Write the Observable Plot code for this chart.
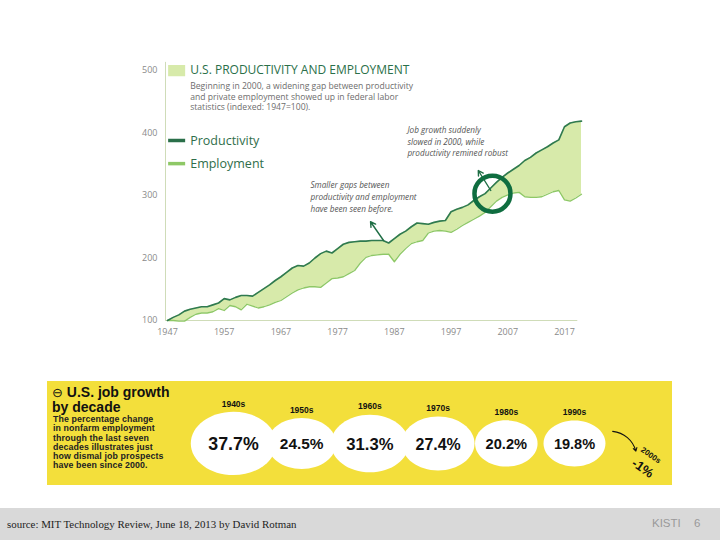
<!DOCTYPE html>
<html><head><meta charset="utf-8">
<script src="https://cdn.jsdelivr.net/npm/d3@7"></script>
<script src="https://cdn.jsdelivr.net/npm/@observablehq/plot@0.6"></script>
<style>
body{margin:0;background:#fff;}
#page{position:relative;width:720px;height:540px;overflow:hidden;background:#fff;font-family:"Liberation Sans",Arial,sans-serif;}
#topchart{position:absolute;left:0;top:0;}
#panel{position:absolute;left:47px;top:381px;width:625px;height:104px;background:#f3df3b;}
#ptitle{position:absolute;left:5px;top:4px;font-weight:bold;font-size:14px;line-height:14px;color:#111;}
#pbody{position:absolute;left:6px;top:34px;font-size:8.8px;line-height:9.3px;color:#222;font-weight:bold;letter-spacing:0.1px;}
#bubbles{position:absolute;left:145px;top:0;}
#footer{position:absolute;left:0;top:508px;width:720px;height:32px;background:#d9d9d9;}
#src{position:absolute;left:7px;top:10px;font-family:"Liberation Serif","DejaVu Serif",serif;font-size:10.9px;color:#222;}
#kisti{position:absolute;left:652px;top:9px;font-size:11.5px;color:#9a9a9a;}
#pg{position:absolute;left:694px;top:9px;font-size:11.5px;color:#9a9a9a;}
</style></head>
<body>
<div id="page">
  <div id="topchart"></div>
  <div id="panel">
    <div id="ptitle"><span style="font-family:'DejaVu Sans';font-size:13px;font-weight:normal">⊖</span> U.S. job growth<br>by decade</div>
    <div id="pbody">The percentage change<br>in nonfarm employment<br>through the last seven<br>decades illustrates just<br>how dismal job prospects<br>have been since 2000.</div>
    <div id="bubbles"></div>
  </div>
  <div id="footer">
    <div id="src">source: MIT Technology Review, June 18, 2013 by David Rotman</div>
    <div id="kisti">KISTI</div><div id="pg">6</div>
  </div>
</div>
<script>
// ---- Top chart data (indexed, 1947=100) ----
const years = [1947,1948,1949,1950,1951,1952,1953,1954,1955,1956,1957,1958,1959,1960,1961,1962,1963,1964,1965,1966,1967,1968,1969,1970,1971,1972,1973,1974,1975,1976,1977,1978,1979,1980,1981,1982,1983,1984,1985,1986,1987,1988,1989,1990,1991,1992,1993,1994,1995,1996,1997,1998,1999,2000,2001,2002,2003,2004,2005,2006,2007,2008,2009,2010,2011,2012,2013,2014,2015,2016,2017,2018,2019,2020];
const productivity = [100,105,109,115,118,120,122,122,125,128,135,133,137,140,140,139,145,151,157,164,170,177,184,188,187,192,200,207,211,208,215,222,225,226,227,227,228,228,228,224,231,238,243,250,256,255,254,257,259,260,274,278,281,285,292,298,303,312,321,329,336,342,348,356,361,368,373,378,384,389,410,416,418,419];
const employment = [100,100,99,99,105,110,112,112,114,119,116,124,122,117,126,123,120,122,125,129,132,138,144,149,152,154,154,153,160,167,168,170,175,180,192,201,204,205,206,206,194,206,215,223,226,228,240,243,244,243,241,246,252,257,262,267,273,282,291,297,301,304,305,298,297,297,298,302,306,308,293,291,296,302];
const xTicks = [1947,1957,1967,1977,1987,1997,2007,2017];
const yTicks = [100,200,300,400,500];
const chartTitle = "U.S. PRODUCTIVITY AND EMPLOYMENT";
const chartSubtitle = "Beginning in 2000, a widening gap between productivity\nand private employment showed up in federal labor\nstatistics (indexed: 1947=100).";
const seriesLabels = ["Productivity", "Employment"];
const notes = [
  {year: 1972.2, value: 325.5, text: "Smaller gaps between\nproductivity and employment\nhave been seen before."},
  {year: 1989.3, value: 414, text: "Job growth suddenly\nslowed in 2000, while\nproductivity remined robust"}
];
const noteArrows = [
  {x1: 1985.1, y1: 228, x2: 1982.8, y2: 258},
  {x1: 2004.0, y1: 308, x2: 2001.8, y2: 340}
];
const highlight = [{year: 2004.3, value: 303}];

// ---- Bottom panel data ----
const decades = ["1940s","1950s","1960s","1970s","1980s","1990s"];
const decadeStart = [1940,1950,1960,1970,1980,1990];
const growth = [37.7,24.5,31.3,27.4,20.2,19.8];
const growthLabels = ["37.7%","24.5%","31.3%","27.4%","20.2%","19.8%"];
const lastDecade = "2000s";
const lastGrowth = "-1%";

const rows = years.map((y,i) => ({year: y, prod: productivity[i], emp: employment[i]}));
const darkGreen = "#2f7a50", lightGreen = "#8ec866", fillGreen = "#d7eaaa", axisCol = "#cfdcb8";

const legendRows = [
  {label: seriesLabels[0], v: 388, color: "#2a6f49"},
  {label: seriesLabels[1], v: 351, color: lightGreen}
];

const topPlot = Plot.plot({
  width: 720, height: 345,
  marginLeft: 167, marginRight: 139, marginTop: 70, marginBottom: 25,
  x: {domain: [1947, 2020], ticks: xTicks, tickFormat: d => String(d), tickSize: 0, tickPadding: 8, label: null},
  y: {domain: [100, 500], ticks: yTicks, tickSize: 0, tickPadding: 10, label: null},
  style: {fontFamily: "'Open Sans', sans-serif", fontSize: "9px", color: "#8a8a8a", background: "transparent", overflow: "visible"},
  marks: [
    Plot.areaY(rows, {x: "year", y1: "emp", y2: "prod", fill: fillGreen}),
    Plot.ruleX([1947], {y1: 100, y2: 513, stroke: axisCol, dx: -2}),
    Plot.ruleY([100], {x1: 1947, x2: 2019.7, stroke: axisCol, dx: -2}),
    Plot.lineY(rows, {x: "year", y: "emp", stroke: lightGreen, strokeWidth: 1.3}),
    Plot.lineY(rows, {x: "year", y: "prod", stroke: darkGreen, strokeWidth: 1.6}),
    // title + legend
    Plot.rect([chartTitle], {x1: 1947.2, x2: 1950.2, y1: 490, y2: 508, fill: fillGreen}),
    Plot.text([chartTitle], {x: 1951.0, y: 500, text: d => d, textAnchor: "start", fontSize: 12, fill: "#2a6f49", fontFamily: "'Open Sans', sans-serif"}),
    Plot.text([chartSubtitle], {x: 1951.0, y: 476, text: d => d, textAnchor: "start", lineAnchor: "middle", lineHeight: 1.27, fontSize: 8.6, fill: "#6d6d6d", dy: 10.5}),
    Plot.ruleY(legendRows, {y: "v", x1: 1947.2, x2: 1950.2, stroke: "color", strokeWidth: 3.5}),
    Plot.text(legendRows, {x: 1951.0, y: "v", text: "label", textAnchor: "start", fontSize: 12.5, fill: "#2f6e4a"}),
    // annotations
    Plot.text(notes, {x: "year", y: "value", text: "text", textAnchor: "start", lineAnchor: "top", lineHeight: 1.45, fontSize: 8.2, fontStyle: "italic", fill: "#555"}),
    Plot.arrow(noteArrows, {x1: "x1", y1: "y1", x2: "x2", y2: "y2", stroke: "#1f6e45", strokeWidth: 1.4, headLength: 6}),
    Plot.dot(highlight, {x: "year", y: "value", r: 18, stroke: "#0f6d40", strokeWidth: 4.5, fill: "none"})
  ]
});
document.getElementById("topchart").appendChild(topPlot);

// ---- Bubble panel ----
const bubbleRows = decades.map((d,i) => ({decade: d, start: decadeStart[i], v: growth[i], label: growthLabels[i]}));
const rOpts = {type: "sqrt", domain: [0, 40], range: [0, 44]};
const rScale = Plot.scale({r: rOpts});
const squash = 0.74;
const ellipse = {
  draw(context, size) {
    const rx = Math.sqrt(size / Math.PI), ry = rx * squash, k = 0.5523;
    context.moveTo(rx, 0);
    context.bezierCurveTo(rx, ry * k, rx * k, ry, 0, ry);
    context.bezierCurveTo(-rx * k, ry, -rx, ry * k, -rx, 0);
    context.bezierCurveTo(-rx, -ry * k, -rx * k, -ry, 0, -ry);
    context.bezierCurveTo(rx * k, -ry, rx, -ry * k, rx, 0);
    context.closePath();
  }
};
const centerY = 59.6;
const bubbles = Plot.plot({
  width: 480, height: 104, margin: 0,
  x: {type: "linear", domain: [1940, 1990], range: [41, 382], axis: null},
  y: {type: "linear", domain: [0, 100], range: [0, 104], axis: null},
  r: rOpts,
  style: {background: "transparent", overflow: "visible", fontFamily: "'Liberation Sans', Arial, sans-serif"},
  marks: [
    Plot.dot(bubbleRows, {x: "start", y: () => centerY, r: "v", symbol: ellipse, fill: "#fff", stroke: "none"}),
    Plot.text(bubbleRows, {x: "start", y: () => centerY, text: "label", fontWeight: "bold", fill: "#111", fontSize: d => 11 + d.v * 0.18, dy: 1}),
    ...bubbleRows.map(d => Plot.text([d], {x: "start", y: () => centerY, text: "decade", fontWeight: "bold", fontSize: 8.5, fill: "#111", dy: -(rScale.apply(d.v) * squash + 8)})),
    Plot.arrow([lastDecade], {x1: 1995.6, y1: 48, x2: 1999.0, y2: 67, bend: 35, stroke: "#111", strokeWidth: 1.1, headLength: 5}),
    Plot.text([lastDecade], {x: 2001.2, y: 71, text: d => d, rotate: 35, fontWeight: "bold", fontSize: 8, fill: "#111"}),
    Plot.text([lastGrowth], {x: 2000.0, y: 83.5, text: d => d, rotate: 35, fontWeight: "bold", fontSize: 13, fill: "#111"})
  ]
});
document.getElementById("bubbles").appendChild(bubbles);
</script>
</body></html>
